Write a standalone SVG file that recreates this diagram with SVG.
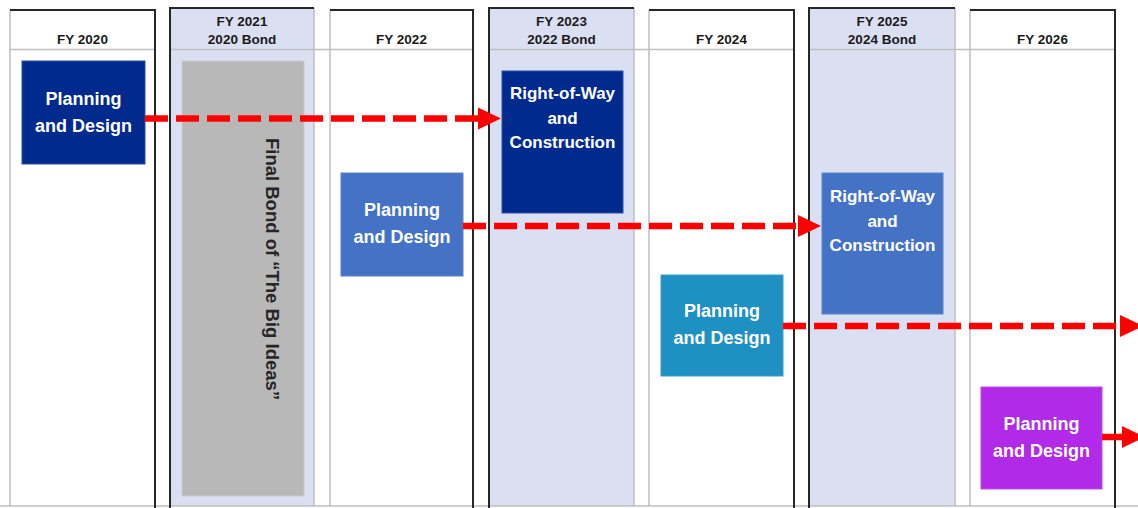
<svg xmlns="http://www.w3.org/2000/svg" width="1138" height="508" viewBox="0 0 1138 508">
<style>
.col{fill:#FFFFFF;stroke:none}
.bond{fill:#DAE0F2;stroke:none}
.grid{stroke:#BFBFBF;stroke-width:1.5;fill:none}
.frame{stroke:#262626;stroke-width:2;fill:none}
.hdr{font-family:"Liberation Sans",Arial,sans-serif;font-weight:bold;font-size:13.5px;fill:#1a1a1a;text-anchor:middle}
.lbl{font-family:"Liberation Sans",Arial,sans-serif;font-weight:bold;font-size:18px;fill:#FFFFFF;text-anchor:middle}
.lbl2{font-family:"Liberation Sans",Arial,sans-serif;font-weight:bold;font-size:17px;fill:#FFFFFF;text-anchor:middle}
.vtxt{font-family:"Liberation Sans",Arial,sans-serif;font-weight:bold;font-size:18.5px;fill:#262626;text-anchor:middle}
.dash{stroke:#FF0000;stroke-width:6.5;stroke-dasharray:23 8;fill:none}
.solid{stroke:#FF0000;stroke-width:6.5;fill:none}
</style>
<defs>
<marker id="ah" markerUnits="userSpaceOnUse" markerWidth="24" markerHeight="24" refX="0" refY="11" orient="auto" overflow="visible">
<path d="M0,0 L23,11 L0,22 Z" fill="#FF0000"/>
</marker>
</defs>
<rect width="1138" height="508" fill="#FFFFFF"/>
<g id="columns">
<rect class="bond" x="170" y="8" width="144" height="498"/>
<rect class="bond" x="489" y="8" width="145" height="498"/>
<rect class="bond" x="809" y="8" width="146" height="498"/>
<path class="grid" d="M10,10 V506 M314,8 V506 M330,10 V506 M634,8 V506 M649,10 V506 M955,8 V506 M970,10 V506"/>
<path class="grid" d="M10,49.5 H155 M170,49.5 H473 M489,49.5 H794 M809,49.5 H1115"/>
<path class="grid" d="M0,506 H1138"/>
<path class="frame" d="M10,10 H155 V508"/>
<path class="frame" d="M170,508 V8 H314 M330,10 H473 V508"/>
<path class="frame" d="M489,508 V8 H634 M649,10 H794 V508"/>
<path class="frame" d="M809,508 V8 H955 M970,10 H1115 V508"/>
</g>
<g id="headers">
<text class="hdr" x="82.5" y="43.5">FY 2020</text>
<text class="hdr" x="242" y="26">FY 2021</text>
<text class="hdr" x="242" y="44">2020 Bond</text>
<text class="hdr" x="401.5" y="43.5">FY 2022</text>
<text class="hdr" x="561.5" y="26">FY 2023</text>
<text class="hdr" x="561.5" y="44">2022 Bond</text>
<text class="hdr" x="721.5" y="43.5">FY 2024</text>
<text class="hdr" x="882" y="26">FY 2025</text>
<text class="hdr" x="882" y="44">2024 Bond</text>
<text class="hdr" x="1042.5" y="43.5">FY 2026</text>
</g>
<g id="final-bond">
<rect x="182" y="61" width="122" height="435" fill="#B8B8B8" stroke="#CCCCCC" stroke-width="1"/>
<text class="vtxt" transform="translate(266,269) rotate(90)">Final Bond of “The Big Ideas”</text>
</g>
<g id="pd-2020">
<rect x="22" y="61" width="123" height="103" fill="#012A8F" stroke="#2F4FA5" stroke-width="1"/>
<text class="lbl" x="83.5" y="105">Planning</text>
<text class="lbl" x="83.5" y="131.5">and Design</text>
</g>
<g id="row-2023">
<rect x="502" y="71" width="121" height="142" fill="#012A8F" stroke="#2F4FA5" stroke-width="1"/>
<text class="lbl2" x="562.5" y="99">Right-of-Way</text>
<text class="lbl2" x="562.5" y="123.5">and</text>
<text class="lbl2" x="562.5" y="147.5">Construction</text>
</g>
<g id="pd-2022">
<rect x="341" y="173" width="122" height="103" fill="#4472C4" stroke="#5A82CB" stroke-width="1"/>
<text class="lbl" x="402" y="216">Planning</text>
<text class="lbl" x="402" y="242.5">and Design</text>
</g>
<g id="row-2025">
<rect x="822" y="173" width="121" height="141" fill="#4472C4" stroke="#5A82CB" stroke-width="1"/>
<text class="lbl2" x="882.5" y="202">Right-of-Way</text>
<text class="lbl2" x="882.5" y="226.5">and</text>
<text class="lbl2" x="882.5" y="250.5">Construction</text>
</g>
<g id="pd-2024">
<rect x="661" y="275" width="122" height="101" fill="#1E91C2" stroke="#3A9FCA" stroke-width="1"/>
<text class="lbl" x="722" y="317">Planning</text>
<text class="lbl" x="722" y="343.5">and Design</text>
</g>
<g id="pd-2026">
<rect x="981" y="387" width="121" height="102" fill="#B02AE8" stroke="#BC4DEC" stroke-width="1"/>
<text class="lbl" x="1041.5" y="429.5">Planning</text>
<text class="lbl" x="1041.5" y="456.5">and Design</text>
</g>
<g id="connectors">
<path class="dash" d="M145,118.5 H478" marker-end="url(#ah)"/>
<path class="dash" d="M463,226 H798" marker-end="url(#ah)"/>
<path class="dash" d="M783,326 H1120" marker-end="url(#ah)"/>
<path class="solid" d="M1102,437 H1122" marker-end="url(#ah)"/>
</g>
</svg>
